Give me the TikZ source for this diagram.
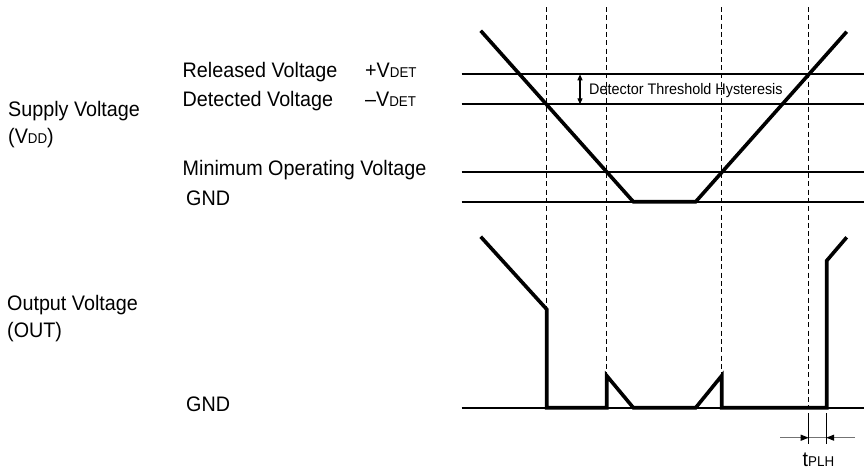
\documentclass[tikz,border=0pt]{standalone}
\usepackage{fontspec}
\setmainfont{Liberation Sans}[FakeStretch=0.94]
\usetikzlibrary{arrows.meta}
\newcommand{\sbs}[1]{{\fontsize{14.2}{15}\selectfont #1}}
\begin{document}
\begin{tikzpicture}[x=1pt,y=-1pt,
  lbl/.style={anchor=base west,inner sep=0pt,font=\fontsize{21}{23}\selectfont},
  small/.style={anchor=base west,inner sep=0pt,font=\fontsize{15.3}{17}\selectfont},
  level/.style={line width=1.7pt},
  wave/.style={line width=3.6pt,line join=miter},
  guide/.style={line width=1.4pt,dash pattern=on 5pt off 3.3pt},
  tip/.style={line width=1.1pt,-{Triangle[length=6pt,width=5pt]}},
  tick/.style={line width=1.1pt},
]
\useasboundingbox (0,0) rectangle (864,471);
% level lines
\coordinate (relL) at (461.5,74.3);   \coordinate (relR) at (864,74.3);
\coordinate (detL) at (461.5,104.3);  \coordinate (detR) at (864,104.3);
\coordinate (minL) at (461.5,172.3);  \coordinate (minR) at (864,172.3);
\coordinate (gndL) at (461.5,201.7);  \coordinate (gndR) at (864,201.7);
\coordinate (ognL) at (461.5,407.7);  \coordinate (ognR) at (864,407.7);
\draw[level] (relL) -- (relR);
\draw[level] (detL) -- (detR);
\draw[level] (minL) -- (minR);
\draw[level] (gndL) -- (gndR);
\draw[level] (ognL) -- (ognR);
% dashed guides
\coordinate (g1t) at (546.7,7); \coordinate (g1b) at (546.7,309.3);
\coordinate (g2t) at (606.7,7); \coordinate (g2b) at (606.7,375.7);
\coordinate (g3t) at (721.7,7); \coordinate (g3b) at (721.7,375.7);
\coordinate (g4t) at (808.7,7); \coordinate (g4b) at (808.7,407.7);
\draw[guide] (g1t) -- (g1b);
\draw[guide] (g2t) -- (g2b);
\draw[guide] (g3t) -- (g3b);
\draw[guide] (g4t) -- (g4b);
% supply waveform
\coordinate (s0) at (480.7,30.7);
\coordinate (s1) at (633.3,201.7);
\coordinate (s2) at (695.7,201.7);
\coordinate (s3) at (846.7,31.7);
\draw[wave] (s0) -- (s1) -- (s2) -- (s3);
% output waveform
\coordinate (o0) at (480.7,236.7);
\coordinate (o1) at (546.7,309.3);
\coordinate (o2) at (546.7,407.7);
\coordinate (o3) at (606.7,407.7);
\coordinate (o4) at (606.7,375.7);
\coordinate (o5) at (633.3,407.7);
\coordinate (o6) at (695.7,407.7);
\coordinate (o7) at (721.7,375.7);
\coordinate (o8) at (721.7,407.7);
\coordinate (o9) at (826.7,407.7);
\coordinate (o10) at (826.7,260.7);
\coordinate (o11) at (846.7,237.3);
\draw[wave] (o0) -- (o1) -- (o2) -- (o3) -- (o4) -- (o5) -- (o6) -- (o7) -- (o8) -- (o9) -- (o10) -- (o11);
% hysteresis arrow
\coordinate (hm) at (580,89.3);
\coordinate (ht) at (580,74.3);
\coordinate (hb) at (580,104.3);
\draw[tip,-{Triangle[length=6pt,width=5pt]}] (hm) -- (ht);
\draw[tip,-{Triangle[length=6pt,width=5pt]}] (hm) -- (hb);
\node[small] (hyst) at (589,94.8) {Detector Threshold Hysteresis};
% tPLH marker
\coordinate (k1t) at (808.7,413); \coordinate (k1b) at (808.7,444);
\coordinate (k2t) at (826.2,413); \coordinate (k2b) at (826.2,444);
\draw[tick] (k1t) -- (k1b);
\draw[tick] (k2t) -- (k2b);
\coordinate (aL) at (780,437.7);
\coordinate (aR) at (855,437.7);
\coordinate (aM1) at (808.7,437.7);
\coordinate (aM2) at (826.2,437.7);
\draw[line width=1.1pt,black!55] (aM1) -- (aM2);
\draw[line width=1.1pt,black!55,-{Triangle[length=8pt,width=6pt,color=black]}] (aL) -- (aM1);
\draw[line width=1.1pt,black!55,-{Triangle[length=8pt,width=6pt,color=black]}] (aR) -- (aM2);
\node[lbl] (tplh) at (802.5,466.5) {t\sbs{PLH}};
% left labels
\node[lbl] (rel) at (182.5,77.7) {Released Voltage};
\node[lbl] (relv) at (365,77.7) {+V\sbs{DET}};
\node[lbl] (det) at (182.5,106.7) {Detected Voltage};
\node[lbl] (detv) at (365,106.7) {–V\sbs{DET}};
\node[lbl] (sup1) at (8,116) {Supply Voltage};
\node[lbl] (sup2) at (8,143) {(V\sbs{DD})};
\node[lbl] (minv) at (182.5,175.7) {Minimum Operating Voltage};
\node[lbl] (gnd1) at (186,205) {GND};
\node[lbl] (out1) at (7,310) {Output Voltage};
\node[lbl] (out2) at (7,337) {(OUT)};
\node[lbl] (gnd2) at (186,411.7) {GND};
\end{tikzpicture}
\end{document}
